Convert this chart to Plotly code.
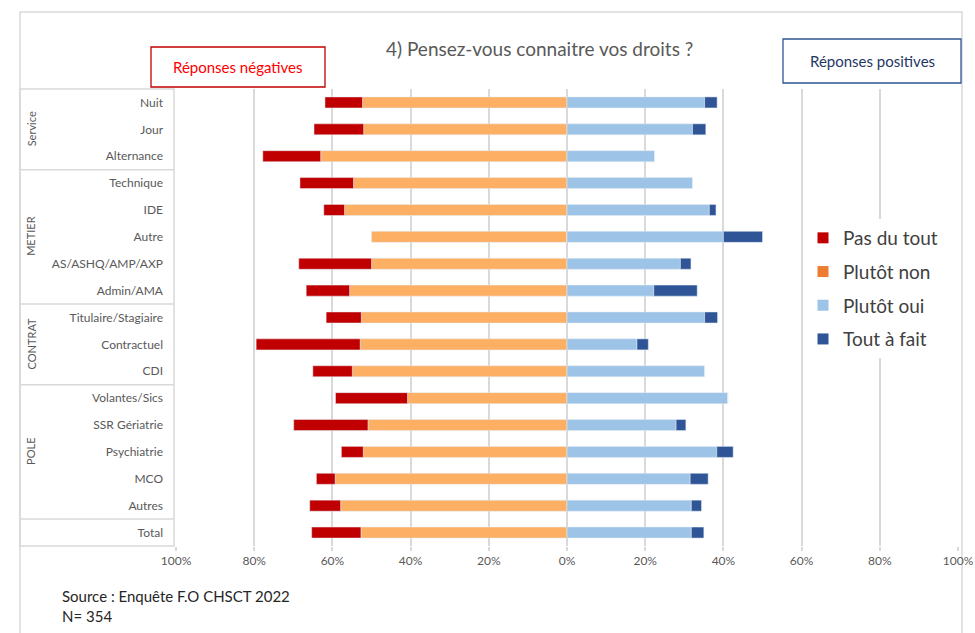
import plotly.graph_objects as go

categories = ["Nuit", "Jour", "Alternance", "Technique", "IDE", "Autre",
              "AS/ASHQ/AMP/AXP", "Admin/AMA", "Titulaire/Stagiaire", "Contractuel",
              "CDI", "Volantes/Sics", "SSR Gériatrie", "Psychiatrie", "MCO",
              "Autres", "Total"]
pas_du_tout = [9.6, 12.7, 14.8, 13.7, 5.3, 0, 18.6, 11.1, 9.0, 26.6, 10.1, 18.4, 19.0, 5.6, 4.8, 7.9, 12.6]
plutot_non = [52.3, 52.0, 63.0, 54.6, 56.9, 50.0, 50.0, 55.6, 52.6, 52.9, 54.9, 40.8, 50.9, 52.1, 59.3, 57.9, 52.7]
plutot_oui = [35.2, 32.1, 22.4, 32.1, 36.4, 40.0, 29.0, 22.2, 35.2, 17.9, 35.2, 41.1, 27.9, 38.3, 31.5, 31.8, 31.8]
tout_a_fait = [3.2, 3.4, 0, 0, 1.7, 10.0, 2.7, 11.1, 3.3, 2.9, 0, 0, 2.5, 4.2, 4.6, 2.6, 3.2]

groups = [("Service", 0, 2), ("METIER", 3, 7), ("CONTRAT", 8, 10), ("POLE", 11, 15)]
tick_vals = [-100, -80, -60, -40, -20, 0, 20, 40, 60, 80, 100]
tick_text = ["100%", "80%", "60%", "40%", "20%", "0%", "20%", "40%", "60%", "80%", "100%"]

C_PAS = "#C00000"
C_NON = "#FDAF63"
C_NON_LEG = "#ED7D31"
C_OUI = "#9DC3E6"
C_TOUT = "#2F5597"

W, H = 975, 633
L, R, T, B = 176, 958, 89, 546


def px(x):
    return (x - L) / (R - L)


def py(y):
    return (B - y) / (B - T)


FONT = "Lato"
fig = go.Figure()
bw = 0.41
fig.add_trace(go.Bar(y=categories, x=[-v for v in plutot_non], orientation="h",
                     marker_color=C_NON, width=bw, showlegend=False, name="Plutôt non"))
fig.add_trace(go.Bar(y=categories, x=[-v for v in pas_du_tout], orientation="h",
                     marker_color=C_PAS, width=bw, showlegend=False, name="Pas du tout"))
fig.add_trace(go.Bar(y=categories, x=plutot_oui, orientation="h",
                     marker_color=C_OUI, width=bw, showlegend=False, name="Plutôt oui"))
fig.add_trace(go.Bar(y=categories, x=tout_a_fait, orientation="h",
                     marker_color=C_TOUT, width=bw, showlegend=False, name="Tout à fait"))

for nm, col in [("Pas du tout", C_PAS), ("Plutôt non", C_NON_LEG),
                ("Plutôt oui", C_OUI), ("Tout à fait", C_TOUT)]:
    fig.add_trace(go.Scatter(x=[None], y=[None], mode="markers", name=nm,
                             legendgroup=nm,
                             marker=dict(symbol="square", size=11, color=col)))

shapes = []
# outer border
shapes.append(dict(type="rect", xref="paper", yref="paper",
                   x0=px(20), x1=px(962), y0=py(640), y1=py(12),
                   line=dict(color="#D9D9D9", width=1.5), layer="below"))
# table box
tx0, tx1 = px(20), px(174)
shapes.append(dict(type="rect", xref="paper", yref="paper", x0=tx0, x1=tx1,
                   y0=0, y1=1, line=dict(color="#D9D9D9", width=1.5)))
for yv in [2.5, 7.5, 10.5, 15.5]:
    shapes.append(dict(type="line", xref="paper", yref="y", x0=tx0, x1=tx1,
                       y0=yv, y1=yv, line=dict(color="#D9D9D9", width=1.5)))
# header boxes
shapes.append(dict(type="rect", xref="paper", yref="paper",
                   x0=px(151), x1=px(325), y0=py(87), y1=py(47),
                   line=dict(color="#C00000", width=1.3), fillcolor="white"))
shapes.append(dict(type="rect", xref="paper", yref="paper",
                   x0=px(783), x1=px(961), y0=py(83), y1=py(39),
                   line=dict(color="#2F5597", width=1.3), fillcolor="white"))

ann = []
ann.append(dict(text="4) Pensez-vous connaitre vos droits ?", xref="paper", yref="paper",
                x=px(539), y=py(48), showarrow=False, xanchor="center", yanchor="middle",
                font=dict(family=FONT, size=19, color="#595959")))
ann.append(dict(text="Réponses négatives", xref="paper", yref="paper",
                x=px(238), y=py(67), showarrow=False, xanchor="center", yanchor="middle",
                font=dict(family=FONT, size=15, color="#FF0000")))
ann.append(dict(text="Réponses positives", xref="paper", yref="paper",
                x=px(872), y=py(61), showarrow=False, xanchor="center", yanchor="middle",
                font=dict(family=FONT, size=15, color="#1F3864")))
for g, a, b in groups:
    ann.append(dict(text=g, xref="paper", yref="y", x=px(31), y=(a + b) / 2,
                    showarrow=False, textangle=-90, xanchor="center", yanchor="middle",
                    font=dict(family=FONT, size=11, color="#595959")))
ann.append(dict(text="Source : Enquête F.O CHSCT 2022<br>N= 354", xref="paper", yref="paper",
                x=px(60), y=py(585), xanchor="left", yanchor="top", align="left",
                showarrow=False, font=dict(family=FONT, size=15, color="#262626")))

fig.update_layout(
    width=W, height=H, autosize=False,
    margin=dict(l=L, r=W - R, t=T, b=H - B, pad=0, autoexpand=False),
    paper_bgcolor="white", plot_bgcolor="white",
    barmode="relative", bargap=0.59,
    font=dict(family=FONT, color="#595959"),
    shapes=shapes, annotations=ann,
    legend=dict(x=px(803), y=py(219), xanchor="left", yanchor="top",
                bgcolor="white", font=dict(family=FONT, size=19, color="#404040"),
                traceorder="grouped", tracegroupgap=6, itemwidth=30),
    xaxis=dict(range=[-100, 100], tickvals=tick_vals, ticktext=tick_text,
               automargin=False,
               showgrid=True, gridcolor="#D9D9D9", gridwidth=1.5, zeroline=False,
               ticks="outside", ticklen=4, tickcolor="#D9D9D9", tickwidth=1.5,
               tickfont=dict(family=FONT, size=12, color="#595959"), fixedrange=True),
    yaxis=dict(categoryorder="array", categoryarray=categories, autorange="reversed",
               automargin=False,
               showgrid=False, zeroline=False, ticks="", ticklabelstandoff=12,
               tickfont=dict(family=FONT, size=12, color="#595959")),
)

fig.write_html(
    "out.html",
    config={"displayModeBar": False, "responsive": False},
    post_script="document.body.style.margin='0';document.body.style.overflow='hidden';",
)
